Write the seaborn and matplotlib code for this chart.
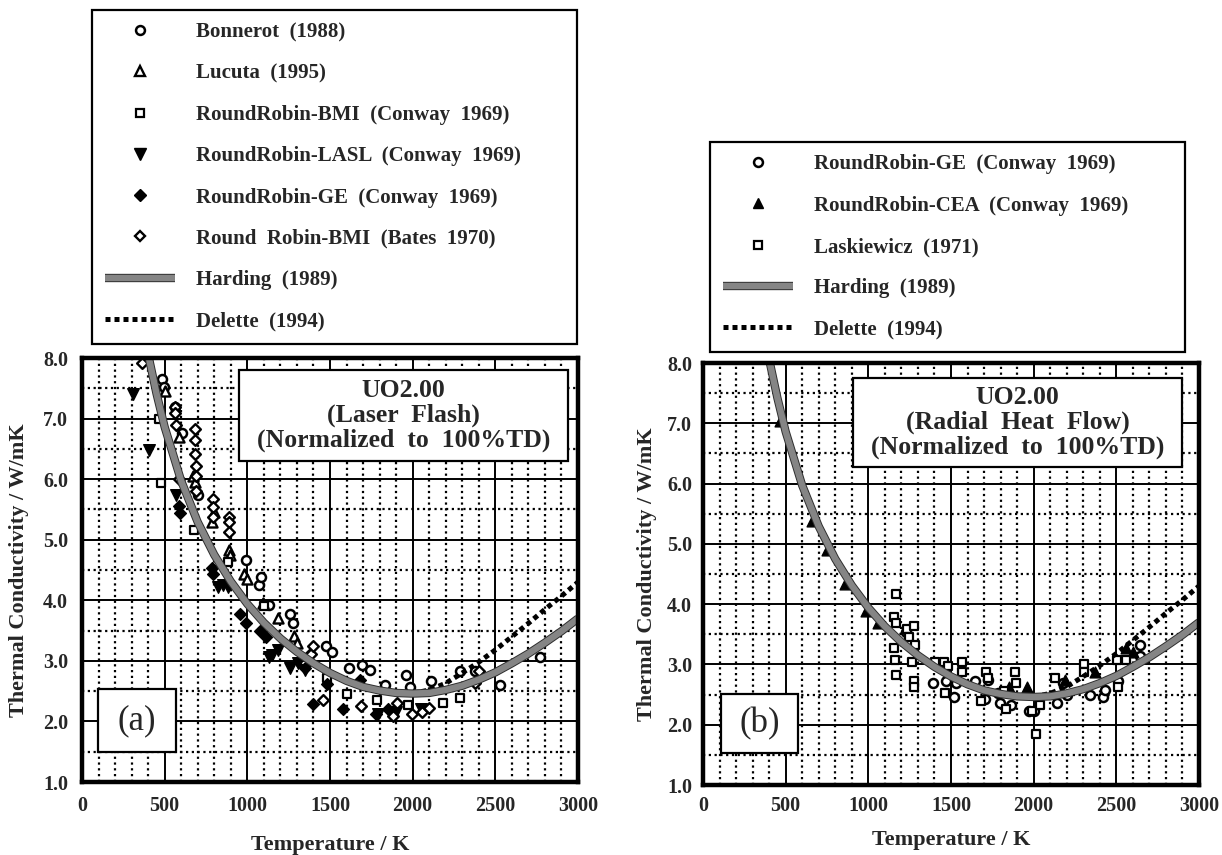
import matplotlib
matplotlib.use('Agg')
import matplotlib.pyplot as plt
import seaborn as sns
import pandas as pd
from matplotlib.lines import Line2D
from matplotlib.patches import Rectangle
import matplotlib.patheffects as pe
from matplotlib.ticker import MultipleLocator, FormatStrFormatter

# ---------------- data ----------------
# curves (both panels)
harding_T = [400, 450, 500, 600, 700, 800, 900, 1000, 1100, 1200, 1300, 1400, 1500,
             1600, 1700, 1800, 1900, 2000, 2100, 2200, 2300, 2400, 2500, 2600,
             2700, 2800, 2900, 3000]
harding_k = [8.06, 7.42, 6.86, 5.97, 5.29, 4.75, 4.31, 3.94, 3.63, 3.37, 3.15, 2.96, 2.80,
             2.67, 2.57, 2.51, 2.47, 2.46, 2.47, 2.52, 2.59, 2.69, 2.81, 2.96,
             3.12, 3.30, 3.49, 3.70]
delette_T = [2000, 2100, 2200, 2300, 2400, 2500, 2600, 2700, 2800, 2900, 3000]
delette_k = [2.46, 2.52, 2.63, 2.80, 2.98, 3.18, 3.40, 3.62, 3.85, 4.07, 4.30]

# panel (a) : laser flash
bonnerot_T = [485, 496, 565, 607, 704, 992, 1073, 1085, 1131, 1258, 1276, 1477, 1512,
              1615, 1692, 1742, 1835, 1962, 1985, 2112, 2285, 2377, 2527, 2769]
bonnerot_k = [7.66, 7.52, 7.19, 6.77, 5.74, 4.67, 4.26, 4.38, 3.93, 3.77, 3.62, 3.25, 3.15,
              2.89, 2.93, 2.85, 2.60, 2.77, 2.57, 2.67, 2.83, 2.83, 2.60, 3.06]
lucuta_T = [500, 588, 669, 684, 785, 800, 888, 895, 981, 1000, 1095, 1188, 1281, 1300]
lucuta_k = [7.45, 6.70, 6.06, 5.95, 5.29, 5.45, 4.83, 4.75, 4.44, 4.35, 3.95, 3.70, 3.41, 3.30]
bmi_T = [468, 478, 676, 882, 1100, 1482, 1600, 1784, 1972, 2184, 2286]
bmi_k = [7.00, 5.93, 5.16, 4.64, 3.90, 2.72, 2.45, 2.35, 2.27, 2.30, 2.39]
lasl_T = [307, 404, 570, 824, 850, 884, 1131, 1150, 1188, 1258, 1304, 1350, 1788, 1900, 2050]
lasl_k = [7.40, 6.48, 5.74, 4.22, 4.25, 4.22, 3.06, 3.10, 3.18, 2.89, 2.96, 2.85, 2.12, 2.15, 2.20]
gea_T = [585, 590, 785, 790, 958, 992, 1077, 1110, 1350, 1373, 1396, 1480, 1576, 1682, 1777, 1850]
gea_k = [5.56, 5.44, 4.54, 4.44, 3.78, 3.63, 3.50, 3.40, 2.89, 3.09, 2.28, 2.62, 2.21, 2.68, 2.12, 2.20]
bates_T = [365, 560, 565, 570, 584, 685, 685, 685, 690, 690, 690, 790, 790, 795, 888, 888,
           890, 1385, 1396, 1460, 1685, 1881, 1904, 1996, 2054, 2100, 2377, 2400]
bates_k = [7.92, 7.19, 7.10, 6.90, 6.00, 6.82, 6.64, 6.42, 6.22, 6.06, 5.80, 5.67, 5.54, 5.38,
           5.38, 5.29, 5.12, 3.12, 3.25, 2.35, 2.25, 2.09, 2.31, 2.12, 2.15, 2.22, 2.64, 2.83]

# panel (b) : radial heat flow
geb_T = [1228, 1390, 1471, 1517, 1529, 1645, 1703, 1726, 1784, 1795, 1865, 1969, 2004,
         2143, 2178, 2201, 2340, 2421, 2430, 2513, 2641, 2641]
geb_k = [3.53, 2.69, 2.72, 2.46, 2.69, 2.72, 2.43, 2.75, 2.52, 2.36, 2.33, 2.23, 2.23,
         2.36, 2.69, 2.49, 2.49, 2.46, 2.57, 2.72, 3.33, 3.14]
cea_T = [463, 660, 753, 857, 985, 1059, 1853, 1957, 2189, 2368, 2560, 2600]
cea_k = [7.03, 5.38, 4.89, 4.34, 3.88, 3.69, 2.62, 2.62, 2.75, 2.88, 3.27, 3.20]
lask_T = [1165, 1158, 1165, 1156, 1161, 1170, 1235, 1244, 1274, 1281, 1263, 1274, 1279,
          1401, 1459, 1483, 1466, 1564, 1564, 1680, 1714, 1726, 1819, 1830, 1888, 1895,
          2015, 1992, 2039, 2131, 2305, 2305, 2502, 2513, 2560]
lask_k = [4.16, 3.79, 3.69, 3.27, 3.07, 2.82, 3.59, 3.46, 3.63, 3.33, 3.04, 2.72, 2.62,
          3.04, 3.04, 2.98, 2.52, 3.04, 2.88, 2.39, 2.88, 2.78, 2.56, 2.26, 2.88, 2.69,
          1.84, 2.23, 2.33, 2.78, 3.01, 2.88, 3.07, 2.62, 3.07]

x_ticks = [0, 500, 1000, 1500, 2000, 2500, 3000]
y_ticks = [1.0, 2.0, 3.0, 4.0, 5.0, 6.0, 7.0, 8.0]

legend_a = ['Bonnerot  (1988)', 'Lucuta  (1995)', 'RoundRobin-BMI  (Conway  1969)',
            'RoundRobin-LASL  (Conway  1969)', 'RoundRobin-GE  (Conway  1969)',
            'Round  Robin-BMI  (Bates  1970)', 'Harding  (1989)', 'Delette  (1994)']
legend_b = ['RoundRobin-GE  (Conway  1969)', 'RoundRobin-CEA  (Conway  1969)',
            'Laskiewicz  (1971)', 'Harding  (1989)', 'Delette  (1994)']
title_a = 'UO2.00\n(Laser  Flash)\n(Normalized  to  100%TD)'
title_b = 'UO2.00\n(Radial  Heat  Flow)\n(Normalized  to  100%TD)'

# ---------------- style ----------------
sns.set_theme(style='white')
plt.rcParams['font.family'] = ['Liberation Serif', 'DejaVu Serif']
plt.rcParams['font.weight'] = 'bold'

W, H = 1222, 855
fig = plt.figure(figsize=(W / 100, H / 100), dpi=100)
fig.patch.set_facecolor('white')
axA = fig.add_axes([82 / W, (H - 782) / H, 496 / W, 424 / H])
axB = fig.add_axes([703 / W, (H - 785) / H, 496 / W, 422 / H])

HARD_KW = dict(color='#858585', linewidth=4.6, zorder=6, solid_capstyle='butt',
               path_effects=[pe.Stroke(linewidth=6.0, foreground='#2e2e2e'), pe.Normal()])
DEL_KW = dict(color='black', linewidth=3.6, linestyle=(0, (1, 0.8)), zorder=5,
              dash_capstyle='butt')

MK = {
    'o_open': dict(marker='o', s=42, color='white', edgecolor='black', linewidth=1.8),
    '^_open': dict(marker='^', s=52, color='white', edgecolor='black', linewidth=1.7),
    's_open': dict(marker='s', s=40, color='white', edgecolor='black', linewidth=1.6),
    'v_fill': dict(marker='v', s=70, color='black', edgecolor='black', linewidth=1.0),
    '^_fill': dict(marker='^', s=60, color='black', edgecolor='black', linewidth=1.0),
    'D_fill': dict(marker='D', s=36, color='black', edgecolor='black', linewidth=1.0),
    'D_open': dict(marker='D', s=30, color='white', edgecolor='black', linewidth=1.7),
}
LEG_MK = {
    'o_open': dict(marker='o', markersize=6.4, mfc='white', mec='black', mew=1.8),
    '^_open': dict(marker='^', markersize=7.2, mfc='white', mec='black', mew=1.7),
    's_open': dict(marker='s', markersize=6.4, mfc='white', mec='black', mew=1.6),
    'v_fill': dict(marker='v', markersize=8.4, mfc='black', mec='black', mew=1.0),
    '^_fill': dict(marker='^', markersize=7.8, mfc='black', mec='black', mew=1.0),
    'D_fill': dict(marker='D', markersize=6.0, mfc='black', mec='black', mew=1.0),
    'D_open': dict(marker='D', markersize=5.5, mfc='white', mec='black', mew=1.7),
}


def style_axes(ax, xlabelpad, ylabelpad, tickpad):
    ax.set_xlim(0, 3000)
    ax.set_ylim(1, 8)
    ax.set_xticks(x_ticks)
    ax.set_yticks(y_ticks)
    ax.xaxis.set_minor_locator(MultipleLocator(100))
    ax.yaxis.set_minor_locator(MultipleLocator(0.5))
    ax.yaxis.set_major_formatter(FormatStrFormatter('%.1f'))
    ax.grid(which='major', color='black', linewidth=1.4, linestyle='-', zorder=1)
    ax.grid(which='minor', color='black', linewidth=1.6, linestyle=(0, (1, 1.6)),
            dash_capstyle='butt', zorder=1)
    ax.set_axisbelow(True)
    ax.set_facecolor('white')
    for s in ax.spines.values():
        s.set_visible(True)
        s.set_linewidth(3.2)
        s.set_color('black')
        s.set_zorder(10)
    ax.tick_params(which='both', length=0, labelsize=14.5, pad=tickpad)
    for lab in ax.get_xticklabels() + ax.get_yticklabels():
        lab.set_fontweight('bold')
    ax.set_xlabel('Temperature / K', fontsize=16, fontweight='bold', labelpad=xlabelpad)
    ax.set_ylabel('Thermal Conductivity / W/mK', fontsize=16, fontweight='bold',
                  labelpad=ylabelpad)


def add_curves(ax):
    sns.lineplot(x=harding_T, y=harding_k, ax=ax, **HARD_KW)
    sns.lineplot(x=delette_T, y=delette_k, ax=ax, **DEL_KW)


def add_boxes(ax, title, rect, tag, tagrect):
    (x0, y0, x1, y1) = rect
    ax.add_patch(Rectangle((x0, y0), x1 - x0, y1 - y0, facecolor='white',
                           edgecolor='black', linewidth=1.6, zorder=7))
    ax.text((x0 + x1) / 2, (y0 + y1) / 2, title, ha='center', va='center',
            fontsize=18.5, fontweight='bold', linespacing=1.08, zorder=8)
    (a0, b0, a1, b1) = tagrect
    ax.add_patch(Rectangle((a0, b0), a1 - a0, b1 - b0, facecolor='white',
                           edgecolor='black', linewidth=1.6, zorder=7))
    ax.text((a0 + a1) / 2, (b0 + b1) / 2, tag, ha='center', va='center',
            fontsize=25, fontweight='normal', zorder=8)


def make_legend(handles, labels, x0_px, ytop_px, w_px):
    leg = fig.legend(handles, labels, loc='upper left',
                     bbox_to_anchor=(x0_px / W, 1 - ytop_px / H, w_px / W, 0),
                     mode='expand', frameon=True, fancybox=False, framealpha=1,
                     edgecolor='black', borderpad=0.6, labelspacing=1.02,
                     handlelength=3.4, handletextpad=1.0, borderaxespad=0,
                     prop={'family': 'Liberation Serif', 'weight': 'bold', 'size': 15})
    leg.get_frame().set_linewidth(1.6)
    return leg


def harding_handle():
    return Line2D([], [], **{k: v for k, v in HARD_KW.items() if k != 'zorder'})


def delette_handle():
    return Line2D([], [], color='black', linewidth=3.6, linestyle=(0, (1, 0.8)),
                  dash_capstyle='butt')


# ---------------- panel (a) ----------------
series_a = [(bonnerot_T, bonnerot_k, 'o_open'), (lucuta_T, lucuta_k, '^_open'),
            (bmi_T, bmi_k, 's_open'), (lasl_T, lasl_k, 'v_fill'),
            (gea_T, gea_k, 'D_fill'), (bates_T, bates_k, 'D_open')]
for T, k, m in series_a:
    sns.scatterplot(x=T, y=k, ax=axA, zorder=4, clip_on=True, **MK[m])
add_curves(axA)
style_axes(axA, xlabelpad=14, ylabelpad=10, tickpad=10)
add_boxes(axA, title_a, (950, 6.30, 2940, 7.80), '(a)', (97, 1.50, 569, 2.53))

hA = [Line2D([], [], linestyle='none', **LEG_MK[m]) for _, _, m in series_a]
hA += [harding_handle(), delette_handle()]
make_legend(hA, legend_a, 92, 10, 485)

# ---------------- panel (b) ----------------
series_b = [(geb_T, geb_k, 'o_open'), (cea_T, cea_k, '^_fill'), (lask_T, lask_k, 's_open')]
for T, k, m in series_b:
    sns.scatterplot(x=T, y=k, ax=axB, zorder=4, **MK[m])
add_curves(axB)
style_axes(axB, xlabelpad=10, ylabelpad=7, tickpad=8)
add_boxes(axB, title_b, (907, 6.27, 2897, 7.75), '(b)', (109, 1.53, 575, 2.51))

hB = [Line2D([], [], linestyle='none', **LEG_MK[m]) for _, _, m in series_b]
hB += [harding_handle(), delette_handle()]
make_legend(hB, legend_b, 710, 142, 475)

for ax in (axA, axB):
    if ax.get_legend() is not None:
        ax.get_legend().remove()

fig.savefig('out.png', dpi=100, facecolor='white')
